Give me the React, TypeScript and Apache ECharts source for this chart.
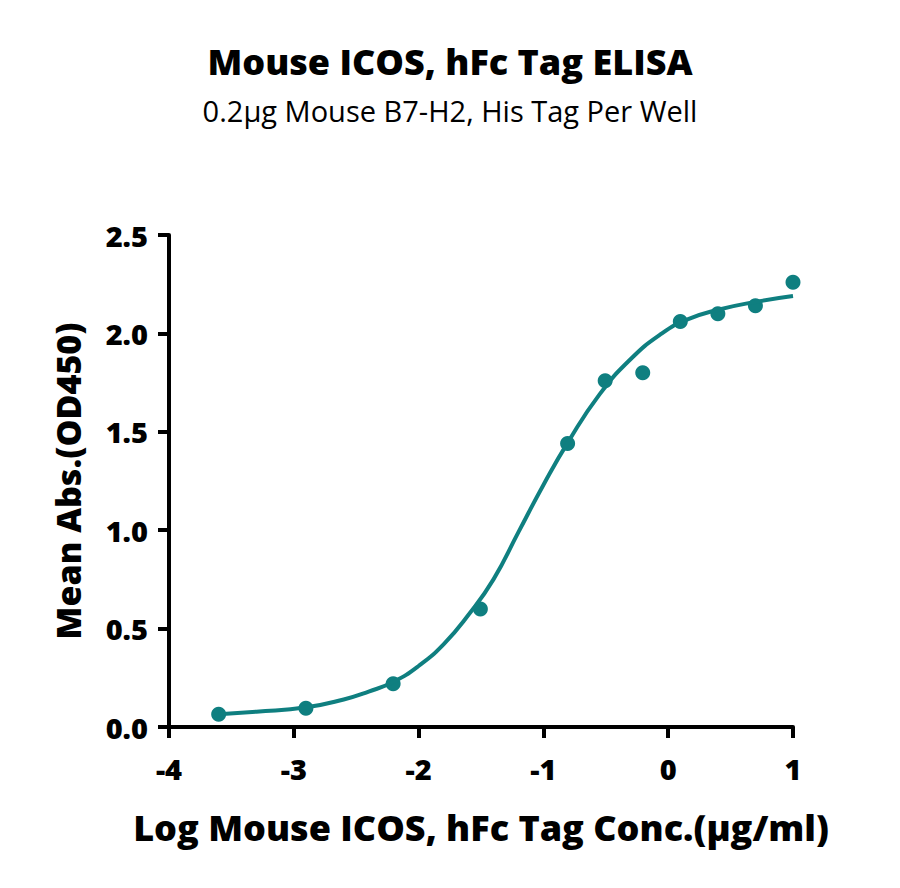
import React, { useEffect, useRef } from 'react';
import * as echarts from 'echarts';

// measured points (log conc, mean abs)
const logConc = [-3.602, -2.903, -2.204, -1.505, -0.806, -0.505, -0.204, 0.097, 0.398, 0.699, 1.0];
const meanAbs = [0.065, 0.095, 0.22, 0.60, 1.44, 1.76, 1.80, 2.06, 2.10, 2.14, 2.26];

// fitted curve
const curveX = [-3.6, -3.3, -2.9, -2.6, -2.4, -2.2, -2.0, -1.8, -1.6, -1.4, -1.2, -1.0, -0.8, -0.55, -0.3, -0.05, 0.15, 0.4, 0.7, 1.0];
const curveY = [0.065, 0.078, 0.10, 0.14, 0.18, 0.23, 0.31, 0.42, 0.57, 0.75, 0.99, 1.23, 1.45, 1.69, 1.87, 2.0, 2.07, 2.12, 2.16, 2.19];

const teal = '#0f7f80';
const font = '"Open Sans", "Noto Sans", sans-serif';

const App: React.FC = () => {
  const chartRef = useRef<HTMLDivElement>(null);

  useEffect(() => {
    if (!chartRef.current) return;
    document.body.style.margin = '0';

    const chart = echarts.init(chartRef.current, undefined, { renderer: 'svg' });

    const option = {
      animation: false,
      backgroundColor: '#fff',
      textStyle: { fontFamily: font },
      title: {
        text: 'Mouse ICOS, hFc Tag ELISA',
        subtext: '0.2μg Mouse B7-H2, His Tag Per Well',
        left: 'center',
        top: 38,
        itemGap: 17,
        textStyle: { fontFamily: font, fontSize: 36, fontWeight: 800, color: '#000' },
        subtextStyle: { fontFamily: font, fontSize: 29, color: '#000' }
      },
      grid: {
        left: 169,
        right: 107,
        top: 235,
        bottom: 161
      },
      xAxis: {
        type: 'value',
        min: -4,
        max: 1,
        interval: 1,
        name: 'Log Mouse ICOS, hFc Tag Conc.(μg/ml)',
        nameLocation: 'middle',
        nameGap: 82,
        nameTextStyle: { fontFamily: font, fontSize: 36, fontWeight: 800, color: '#000' },
        axisLine: { show: true, onZero: false, lineStyle: { color: '#000', width: 4 } },
        axisTick: { show: true, length: 11, lineStyle: { color: '#000', width: 4 } },
        axisLabel: { fontFamily: font, fontSize: 29, fontWeight: 800, color: '#000', margin: 27 },
        splitLine: { show: false }
      },
      yAxis: {
        type: 'value',
        min: 0,
        max: 2.5,
        interval: 0.5,
        name: 'Mean Abs.(OD450)',
        nameLocation: 'middle',
        nameGap: 84,
        nameTextStyle: { fontFamily: font, fontSize: 34, fontWeight: 800, color: '#000' },
        axisLine: { show: true, onZero: false, lineStyle: { color: '#000', width: 4 } },
        axisTick: { show: true, length: 11, lineStyle: { color: '#000', width: 4 } },
        axisLabel: {
          fontFamily: font,
          fontSize: 29,
          fontWeight: 800,
          color: '#000',
          margin: 21,
          formatter: (v: number) => v.toFixed(1)
        },
        splitLine: { show: false }
      },
      series: [
        {
          name: 'fit',
          type: 'line',
          smooth: true,
          showSymbol: false,
          data: curveX.map((x, i) => [x, curveY[i]]),
          lineStyle: { color: teal, width: 4 },
          itemStyle: { color: teal }
        },
        {
          name: 'data',
          type: 'scatter',
          symbolSize: 15,
          data: logConc.map((x, i) => [x, meanAbs[i]]),
          itemStyle: { color: teal, opacity: 1 }
        }
      ]
    };

    chart.setOption(option);

    return () => {
      chart.dispose();
    };
  }, []);

  return <div ref={chartRef} style={{ width: '900px', height: '888px' }} />;
};

export default App;
